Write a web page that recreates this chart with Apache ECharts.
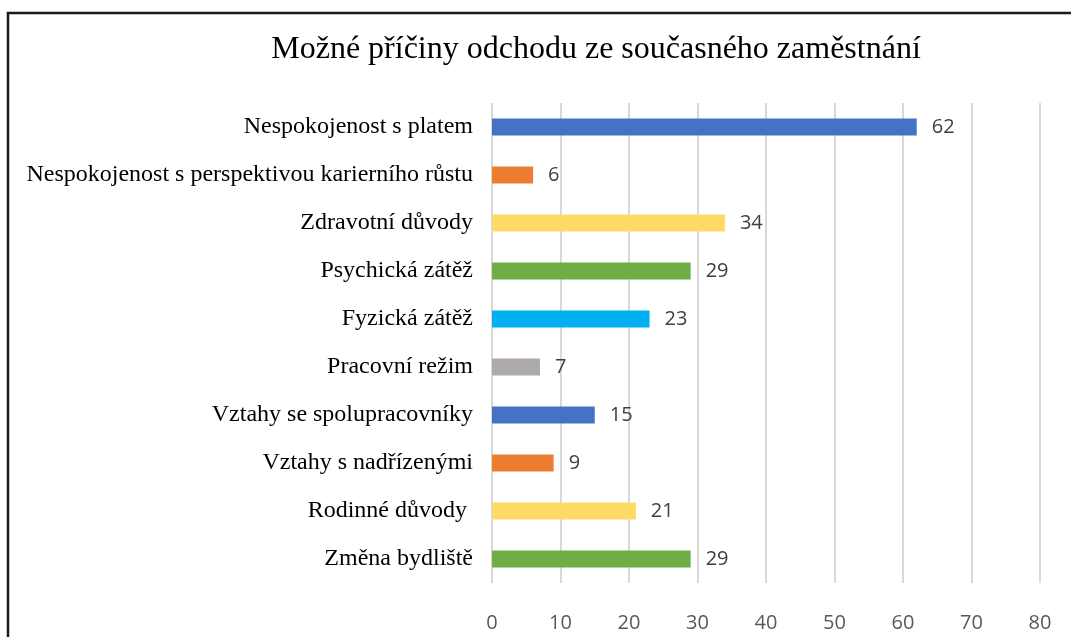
<!DOCTYPE html>
<html lang="cs">
<head>
    <meta charset="UTF-8">
    <script src="https://cdn.jsdelivr.net/npm/echarts@6/dist/echarts.min.js"></script>
    <title>Možné příčiny odchodu</title>
    <style>
        html, body { margin: 0; padding: 0; background: #fff; }
        #main { width: 1071px; height: 637px; }
    </style>
</head>
<body>
    <div id="main"></div>
<script>
    // kategorie shora dolů
    let categories = [
        'Nespokojenost s platem',
        'Nespokojenost s perspektivou karierního růstu',
        'Zdravotní důvody',
        'Psychická zátěž',
        'Fyzická zátěž',
        'Pracovní režim',
        'Vztahy se spolupracovníky',
        'Vztahy s nadřízenými',
        'Rodinné důvody ',
        'Změna bydliště'
    ];
    let values = [62, 6, 34, 29, 23, 7, 15, 9, 21, 29];
    let colors = ['#4472C4', '#ED7D31', '#FFD966', '#70AD47', '#00B0F0',
                  '#AEAAAA', '#4472C4', '#ED7D31', '#FFD966', '#70AD47'];
    let xTicks = [0, 10, 20, 30, 40, 50, 60, 70, 80];

    let myChart = echarts.init(document.getElementById('main'));
    let option = {
        animation: false,
        title: {
            text: 'Možné příčiny odchodu ze současného zaměstnání',
            left: 591,
            textAlign: 'center',
            top: 29,
            textStyle: {
                fontFamily: 'Liberation Serif',
                fontWeight: 'normal',
                fontSize: 32,
                color: '#000'
            }
        },
        graphic: [{
            type: 'rect',
            shape: { x: 8, y: 13, width: 1100, height: 700 },
            style: { fill: 'none', stroke: '#1a1a1a', lineWidth: 2.5 },
            silent: true
        }],
        grid: { left: 492, right: 31, top: 103, bottom: 54 },
        xAxis: {
            type: 'value',
            min: xTicks[0],
            max: xTicks[xTicks.length - 1],
            interval: 10,
            axisLine: { show: false },
            axisTick: { show: false },
            axisLabel: {
                margin: 30,
                fontFamily: 'Open Sans',
                fontSize: 20,
                color: '#595959'
            },
            splitLine: { lineStyle: { color: '#D9D9D9', width: 2 } }
        },
        yAxis: {
            type: 'category',
            inverse: true,
            data: categories,
            axisLine: { show: false },
            axisTick: { show: false },
            axisLabel: {
                margin: 19,
                fontFamily: 'Liberation Serif',
                fontSize: 24,
                color: '#000'
            }
        },
        series: [{
            type: 'bar',
            barWidth: 17,
            data: values.map((v, i) => ({ value: v, itemStyle: { color: colors[i] } })),
            label: {
                show: true,
                position: 'right',
                distance: 15,
                fontFamily: 'Open Sans',
                fontSize: 20,
                color: '#404040'
            }
        }]
    };
    myChart.setOption(option);
</script>
</body>
</html>
